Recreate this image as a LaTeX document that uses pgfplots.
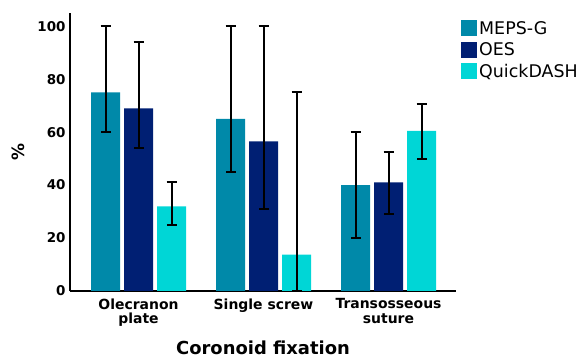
\documentclass[border=0pt]{standalone}
\usepackage{pgfplots}
\pgfplotsset{compat=1.18}
\usepackage{pgfplotstable}
\usepackage{fontspec}
\setmainfont{DejaVu Sans}
\definecolor{meps}{HTML}{0089A9}
\definecolor{oes}{HTML}{001F73}
\definecolor{qd}{HTML}{00D6D6}
\pgfplotstableread{
x y ep em
0 75 25 15
1 65 35 20
2 40 20 20
}\meps
\pgfplotstableread{
x y ep em
0 69 25 15
1 56.5 43.5 25.5
2 41 11.5 12
}\oes
\pgfplotstableread{
x y ep em
0 32 9 7
1 13.7 61.3 13.7
2 60.5 10 10.5
}\qd
\pgfplotsset{myerr/.style={error bars/.cd, y dir=both, y explicit,
  error bar style={line width=2bp, black, draw=black},
  error mark options={rotate=90, mark size=5bp, line width=2bp, black}}}
\begin{document}
\begin{tikzpicture}
\path[use as bounding box] (0,0) rectangle (587bp,358bp);
\begin{axis}[
  at={(70bp,67bp)}, anchor=south west,
  scale only axis, width=386bp, height=278bp,
  ybar=4bp, bar width=29bp,
  xmin=-0.548, xmax=2.54, ymin=0, ymax=105,
  axis x line*=bottom, axis y line*=left,
  axis line style={line width=1.6bp, black, -},
  major tick length=0pt,
  xtick={0,1,2},
  xticklabels={Olecranon\\plate, Single screw, Transosseous\\suture},
  xticklabel style={align=center, font=\bfseries\fontsize{14}{14.5}\selectfont, yshift=-4bp},
  ytick={0,20,40,60,80,100},
  yticklabel style={font=\bfseries\fontsize{13.5}{14}\selectfont, xshift=-1bp},
  /pgf/number format/assume math mode=true,
  ylabel={\%}, ylabel style={font=\bfseries\fontsize{17}{18}\selectfont, at={(-52bp,139bp)}, anchor=center, rotate=0},
  xlabel={Coronoid fixation}, xlabel style={font=\bfseries\fontsize{18}{19}\selectfont, at={(193bp,-57bp)}, anchor=center},
  legend style={at={(391bp,272bp)}, anchor=north west, draw=none, fill=none, inner sep=0pt,
    font=\fontsize{17.5}{18}\selectfont, row sep=3bp, cells={anchor=west}, legend cell align=left},
  legend image code/.code={\fill[#1] (0bp,-8bp) rectangle (16bp,8bp);},
]
\addplot[fill=meps, draw=none, myerr]
  table[x=x, y=y, y error plus=ep, y error minus=em]{\meps};
\addplot[fill=oes, draw=none, myerr]
  table[x=x, y=y, y error plus=ep, y error minus=em]{\oes};
\addplot[fill=qd, draw=none, myerr]
  table[x=x, y=y, y error plus=ep, y error minus=em]{\qd};
\legend{MEPS-G, OES, QuickDASH}
\end{axis}
\end{tikzpicture}
\end{document}
